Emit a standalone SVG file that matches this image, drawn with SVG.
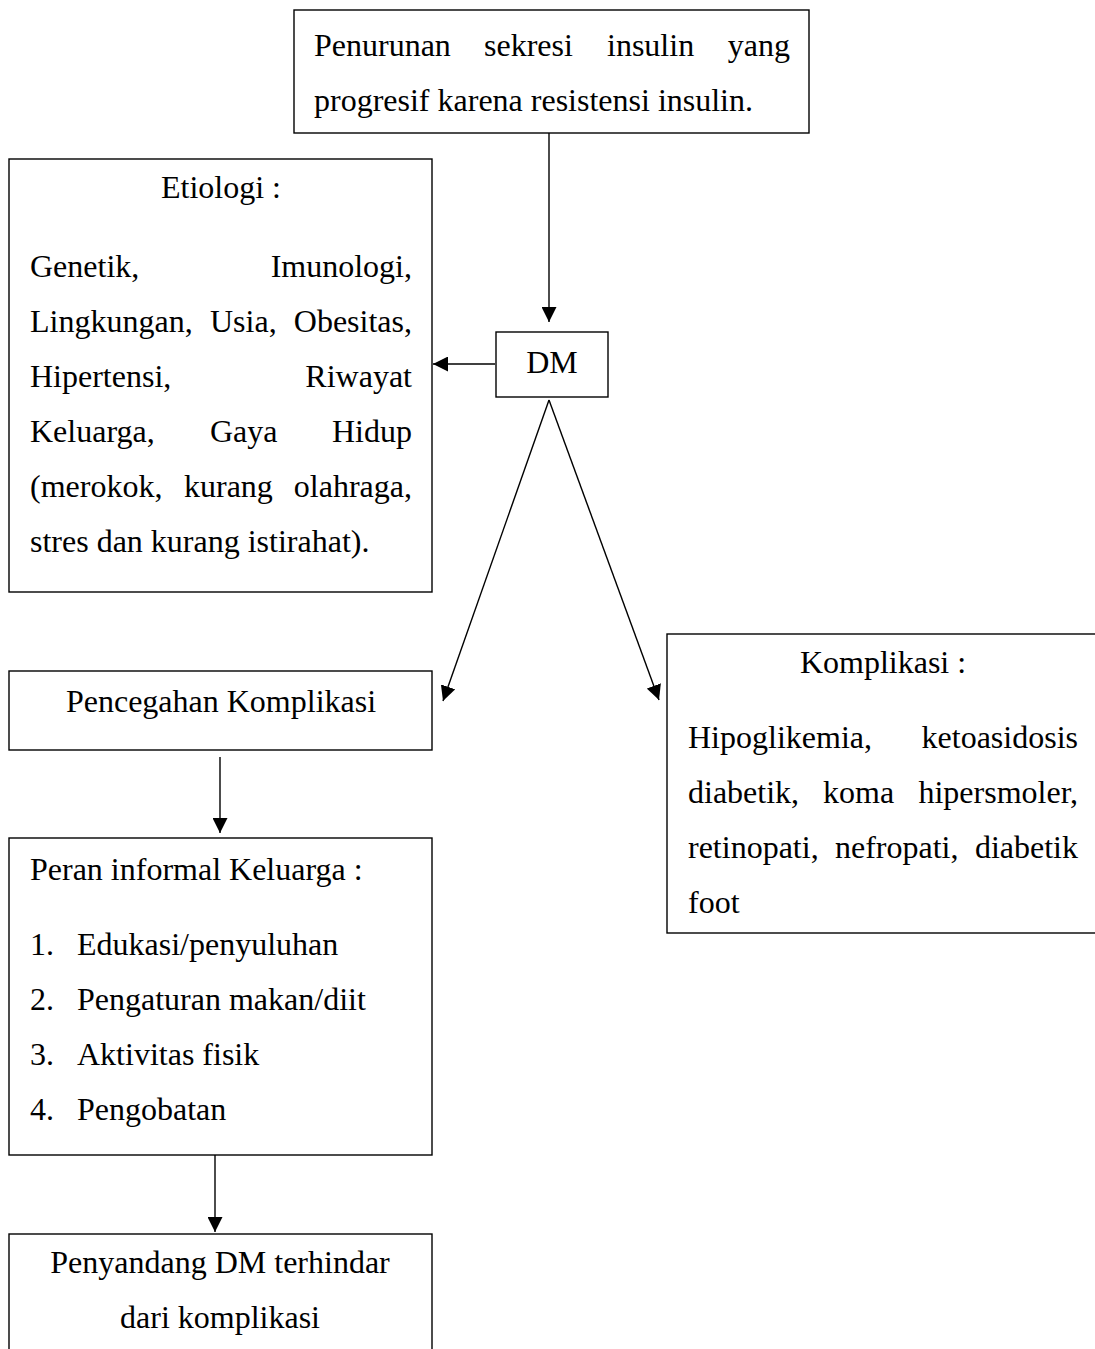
<svg xmlns="http://www.w3.org/2000/svg" width="1095" height="1349" viewBox="0 0 1095 1349">
<style>
.box{fill:#fff;stroke:#000;stroke-width:1.4}
.t{font-family:"Liberation Serif","Times New Roman",serif;font-size:32px;fill:#000}
.c{text-anchor:middle}
.e{text-anchor:end}
.ln{stroke:#000;stroke-width:1.4;fill:none}
</style>
<defs>
<marker id="ah" markerUnits="userSpaceOnUse" markerWidth="15" markerHeight="15" viewBox="0 0 15 15" refX="15" refY="7.5" orient="auto">
<path d="M0,0 L15,7.5 L0,15 z" fill="#000"/>
</marker>
</defs>
<rect width="1095" height="1349" fill="#fff"/>
<g id="connectors">
<line class="ln" x1="549" y1="133" x2="549" y2="322" marker-end="url(#ah)"/>
<line class="ln" x1="495" y1="364" x2="433" y2="364" marker-end="url(#ah)"/>
<line class="ln" x1="549" y1="400" x2="443" y2="701" marker-end="url(#ah)"/>
<line class="ln" x1="549" y1="400" x2="659" y2="700" marker-end="url(#ah)"/>
<line class="ln" x1="220" y1="757" x2="220" y2="833" marker-end="url(#ah)"/>
<line class="ln" x1="215" y1="1155" x2="215" y2="1232" marker-end="url(#ah)"/>
</g>
<g id="top">
<rect class="box" x="294" y="10" width="515" height="123"/>
<text class="t" x="314" y="56">Penurunan</text>
<text class="t" x="484" y="56">sekresi</text>
<text class="t" x="607" y="56">insulin</text>
<text class="t e" x="790" y="56">yang</text>
<text class="t" x="314" y="111">progresif karena resistensi insulin.</text>
</g>
<g id="dm">
<rect class="box" x="496" y="332" width="112" height="65"/>
<text class="t c" x="552" y="373">DM</text>
</g>
<g id="etiologi">
<rect class="box" x="9" y="159" width="423" height="433"/>
<text class="t c" x="221" y="198">Etiologi :</text>
<text class="t" x="30" y="277">Genetik,</text>
<text class="t e" x="412" y="277">Imunologi,</text>
<text class="t" x="30" y="332">Lingkungan,</text>
<text class="t" x="210" y="332">Usia,</text>
<text class="t e" x="412" y="332">Obesitas,</text>
<text class="t" x="30" y="387">Hipertensi,</text>
<text class="t e" x="412" y="387">Riwayat</text>
<text class="t" x="30" y="442">Keluarga,</text>
<text class="t" x="210" y="442">Gaya</text>
<text class="t e" x="412" y="442">Hidup</text>
<text class="t" x="30" y="497">(merokok,</text>
<text class="t" x="184" y="497">kurang</text>
<text class="t e" x="412" y="497">olahraga,</text>
<text class="t" x="30" y="552">stres dan kurang istirahat).</text>
</g>
<g id="pencegahan">
<rect class="box" x="9" y="671" width="423" height="79"/>
<text class="t c" x="221" y="712">Pencegahan Komplikasi</text>
</g>
<g id="komplikasi">
<rect class="box" x="667" y="634" width="440" height="299"/>
<text class="t c" x="883" y="673">Komplikasi :</text>
<text class="t" x="688" y="748">Hipoglikemia,</text>
<text class="t e" x="1078" y="748">ketoasidosis</text>
<text class="t" x="688" y="803">diabetik,</text>
<text class="t" x="823" y="803">koma</text>
<text class="t e" x="1078" y="803">hipersmoler,</text>
<text class="t" x="688" y="858">retinopati,</text>
<text class="t" x="835" y="858">nefropati,</text>
<text class="t e" x="1078" y="858">diabetik</text>
<text class="t" x="688" y="913">foot</text>
</g>
<g id="peran">
<rect class="box" x="9" y="838" width="423" height="317"/>
<text class="t" x="30" y="880">Peran informal Keluarga :</text>
<text class="t" x="30" y="955">1.</text>
<text class="t" x="77" y="955">Edukasi/penyuluhan</text>
<text class="t" x="30" y="1010">2.</text>
<text class="t" x="77" y="1010">Pengaturan makan/diit</text>
<text class="t" x="30" y="1065">3.</text>
<text class="t" x="77" y="1065">Aktivitas fisik</text>
<text class="t" x="30" y="1120">4.</text>
<text class="t" x="77" y="1120">Pengobatan</text>
</g>
<g id="hasil">
<rect class="box" x="9" y="1234" width="423" height="130"/>
<text class="t c" x="220" y="1273">Penyandang DM terhindar</text>
<text class="t c" x="220" y="1328">dari komplikasi</text>
</g>
</svg>
